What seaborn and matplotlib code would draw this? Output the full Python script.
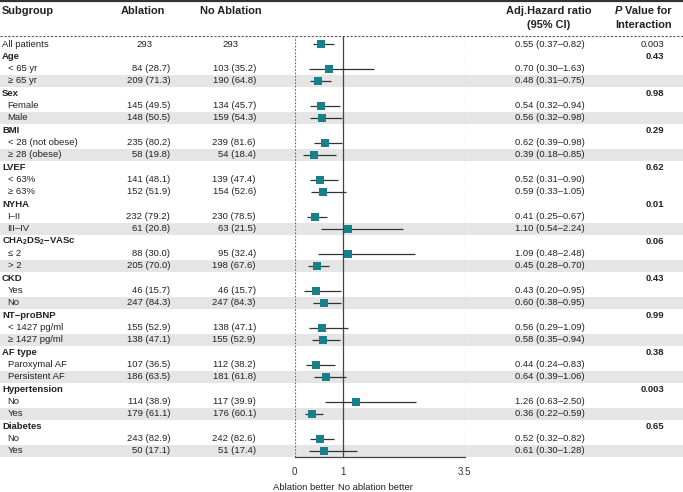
import numpy as np
import pandas as pd
import matplotlib
matplotlib.use("Agg")
import matplotlib.pyplot as plt
import matplotlib.transforms as mtransforms
from matplotlib.patches import Rectangle
import seaborn as sns

sns.set_style("white")
plt.rcParams['font.family'] = ['Liberation Sans', 'DejaVu Sans']
plt.rcParams['mathtext.fontset'] = 'custom'
plt.rcParams['mathtext.rm'] = 'Liberation Sans'
plt.rcParams['mathtext.bf'] = 'Liberation Sans:bold'
plt.rcParams['mathtext.it'] = 'Liberation Sans:italic'

# rows of the table (group header rows have no numbers)
labels = ["All patients", "Age", "< 65 yr", "≥ 65 yr", "Sex", "Female", "Male",
          "BMI", "< 28 (not obese)", "≥ 28 (obese)", "LVEF", "< 63%", "≥ 63%",
          "NYHA", "I–II", "III–IV", r"CHA$_\mathbf{2}$DS$_\mathbf{2}$−VASc", "≤ 2", "> 2",
          "CKD", "Yes", "No", "NT−proBNP", "< 1427 pg/ml", "≥ 1427 pg/ml",
          "AF type", "Paroxymal AF", "Persistent AF", "Hypertension", "No", "Yes",
          "Diabetes", "No", "Yes"]
is_group = [False, True, False, False, True, False, False, True, False, False,
            True, False, False, True, False, False, True, False, False, True,
            False, False, True, False, False, True, False, False, True, False,
            False, True, False, False]
ablation = ["293", None, "84 (28.7)", "209 (71.3)", None, "145 (49.5)", "148 (50.5)",
            None, "235 (80.2)", "58 (19.8)", None, "141 (48.1)", "152 (51.9)",
            None, "232 (79.2)", "61 (20.8)", None, "88 (30.0)", "205 (70.0)",
            None, "46 (15.7)", "247 (84.3)", None, "155 (52.9)", "138 (47.1)",
            None, "107 (36.5)", "186 (63.5)", None, "114 (38.9)", "179 (61.1)",
            None, "243 (82.9)", "50 (17.1)"]
no_ablation = ["293", None, "103 (35.2)", "190 (64.8)", None, "134 (45.7)", "159 (54.3)",
               None, "239 (81.6)", "54 (18.4)", None, "139 (47.4)", "154 (52.6)",
               None, "230 (78.5)", "63 (21.5)", None, "95 (32.4)", "198 (67.6)",
               None, "46 (15.7)", "247 (84.3)", None, "138 (47.1)", "155 (52.9)",
               None, "112 (38.2)", "181 (61.8)", None, "117 (39.9)", "176 (60.1)",
               None, "242 (82.6)", "51 (17.4)"]
hr = [0.55, None, 0.70, 0.48, None, 0.54, 0.56, None, 0.62, 0.39, None, 0.52, 0.59,
      None, 0.41, 1.10, None, 1.09, 0.45, None, 0.43, 0.60, None, 0.56, 0.58,
      None, 0.44, 0.64, None, 1.26, 0.36, None, 0.52, 0.61]
lo = [0.37, None, 0.30, 0.31, None, 0.32, 0.32, None, 0.39, 0.18, None, 0.31, 0.33,
      None, 0.25, 0.54, None, 0.48, 0.28, None, 0.20, 0.38, None, 0.29, 0.35,
      None, 0.24, 0.39, None, 0.63, 0.22, None, 0.32, 0.30]
hi = [0.82, None, 1.63, 0.75, None, 0.94, 0.98, None, 0.98, 0.85, None, 0.90, 1.05,
      None, 0.67, 2.24, None, 2.48, 0.70, None, 0.95, 0.95, None, 1.09, 0.94,
      None, 0.83, 1.06, None, 2.50, 0.59, None, 0.82, 1.28]
p_values = ["0.003", "0.43", None, None, "0.98", None, None, "0.29", None, None,
            "0.62", None, None, "0.01", None, None, "0.06", None, None, "0.43",
            None, None, "0.99", None, None, "0.38", None, None, "0.003", None,
            None, "0.65", None, None]
shaded = [3, 6, 9, 15, 18, 21, 24, 27, 30, 33]

teal = "#17808b"
dark = "#222222"
W, H = 683, 492

df = pd.DataFrame({"row": np.arange(len(labels)), "hr": hr, "lo": lo, "hi": hi})
est = df.dropna()

fig = plt.figure(figsize=(W / 100, H / 100), dpi=100)
ax = fig.add_axes([294.7 / W, 1 - 457 / H, (464.5 - 294.7) / W, (457 - 36) / H])
ax.patch.set_visible(False)
ax.set_xlim(0, 3.5)
ax.set_ylim(33.5, -0.65)

# reference lines
ax.axvline(0, color="#666666", lw=0.8, ls=(0, (1.5, 1.5)), zorder=1)
ax.axvline(3.5, color="#666666", lw=0.8, ls=(0, (1.5, 1.5)), zorder=1)
ax.axvline(1, color="#444444", lw=0.9, zorder=1)

# confidence intervals and estimates
ax.hlines(est["row"], est["lo"], est["hi"], color="#333333", lw=0.9, zorder=2)
sns.scatterplot(data=est, x="hr", y="row", marker="s", color=teal, s=32,
                linewidth=0, ax=ax, zorder=3, legend=False)

ax.set_xlabel("")
ax.set_ylabel("")
ax.set_yticks([])
ax.set_xticks([0, 1, 3.5])
ax.set_xticklabels(["0", "1", "3.5"])
ax.tick_params(axis="x", direction="in", length=3, width=0.8, pad=7.5,
               labelsize=7, colors="#333333")
for s in ["left", "right", "top"]:
    ax.spines[s].set_visible(False)
ax.spines["bottom"].set_color("#444444")
ax.spines["bottom"].set_linewidth(0.9)

trans = mtransforms.blended_transform_factory(fig.transFigure, ax.transData)

# shaded rows
for r in shaded:
    ax.add_patch(Rectangle((0, r - 0.48), 1, 0.96, transform=trans,
                           facecolor="#e5e5e5", edgecolor="none",
                           clip_on=False, zorder=0))

fs = 6.8
for i, lab in enumerate(labels):
    if is_group[i]:
        ax.text(2 / W, i, lab, transform=trans, ha="left", va="center",
                fontsize=fs, fontweight="bold", color=dark)
    else:
        x0 = 2 if i == 0 else 7.5
        ax.text(x0 / W, i, lab, transform=trans, ha="left", va="center",
                fontsize=fs, color=dark)
    if ablation[i] is not None:
        if i == 0:
            ax.text(144.7 / W, i, ablation[i], transform=trans, ha="center",
                    va="center", fontsize=fs, color=dark)
            ax.text(230.5 / W, i, no_ablation[i], transform=trans, ha="center",
                    va="center", fontsize=fs, color=dark)
        else:
            ax.text(170.3 / W, i, ablation[i], transform=trans, ha="right",
                    va="center", fontsize=fs, color=dark)
            ax.text(256 / W, i, no_ablation[i], transform=trans, ha="right",
                    va="center", fontsize=fs, color=dark)
    if hr[i] is not None:
        ax.text(515 / W, i, f"{hr[i]:.2f} ({lo[i]:.2f}–{hi[i]:.2f})",
                transform=trans, ha="left", va="center", fontsize=fs, color=dark)
    if p_values[i] is not None:
        ax.text(664 / W, i, p_values[i], transform=trans, ha="right", va="center",
                fontsize=fs, color=dark,
                fontweight="bold" if is_group[i] else "normal")

# header
hf = 7.9
y1, y2 = 1 - 10.5 / H, 1 - 24.5 / H
fig.text(2 / W, y1, "Subgroup", ha="left", va="center", fontsize=hf,
         fontweight="bold", color=dark)
fig.text(142.5 / W, y1, "Ablation", ha="center", va="center", fontsize=hf,
         fontweight="bold", color=dark)
fig.text(231 / W, y1, "No Ablation", ha="center", va="center", fontsize=hf,
         fontweight="bold", color=dark)
fig.text(548.3 / W, y1, "Adj.Hazard ratio", ha="center", va="center",
         fontsize=hf, fontweight="bold", color=dark)
fig.text(548.3 / W, y2, "(95% CI)", ha="center", va="center", fontsize=hf,
         fontweight="bold", color=dark)
t = fig.text(672 / W, y1, " Value for", ha="right", va="center", fontsize=hf,
             fontweight="bold", color=dark)
fig.text(672 / W, y2, "Interaction", ha="right", va="center", fontsize=hf,
         fontweight="bold", color=dark)
ax.annotate("P", xy=(0, 0.5), xycoords=t, ha="right", va="center",
            fontsize=hf, fontweight="bold", fontstyle="italic", color=dark,
            annotation_clip=False)

# horizontal rules
fig.add_artist(plt.Line2D([0, 1], [1 - 1 / H, 1 - 1 / H], color="#333333", lw=1.6))
fig.add_artist(plt.Line2D([0, 1], [1 - 36 / H, 1 - 36 / H], color="#555555",
                          lw=0.8, ls=(0, (2, 1.5))))

# direction labels
fig.text(334 / W, 1 - 487 / H, "Ablation better", ha="right", va="center",
         fontsize=fs, color=dark)
fig.text(338 / W, 1 - 487 / H, "No ablation better", ha="left", va="center",
         fontsize=fs, color=dark)

fig.savefig("out.png", dpi=100)
